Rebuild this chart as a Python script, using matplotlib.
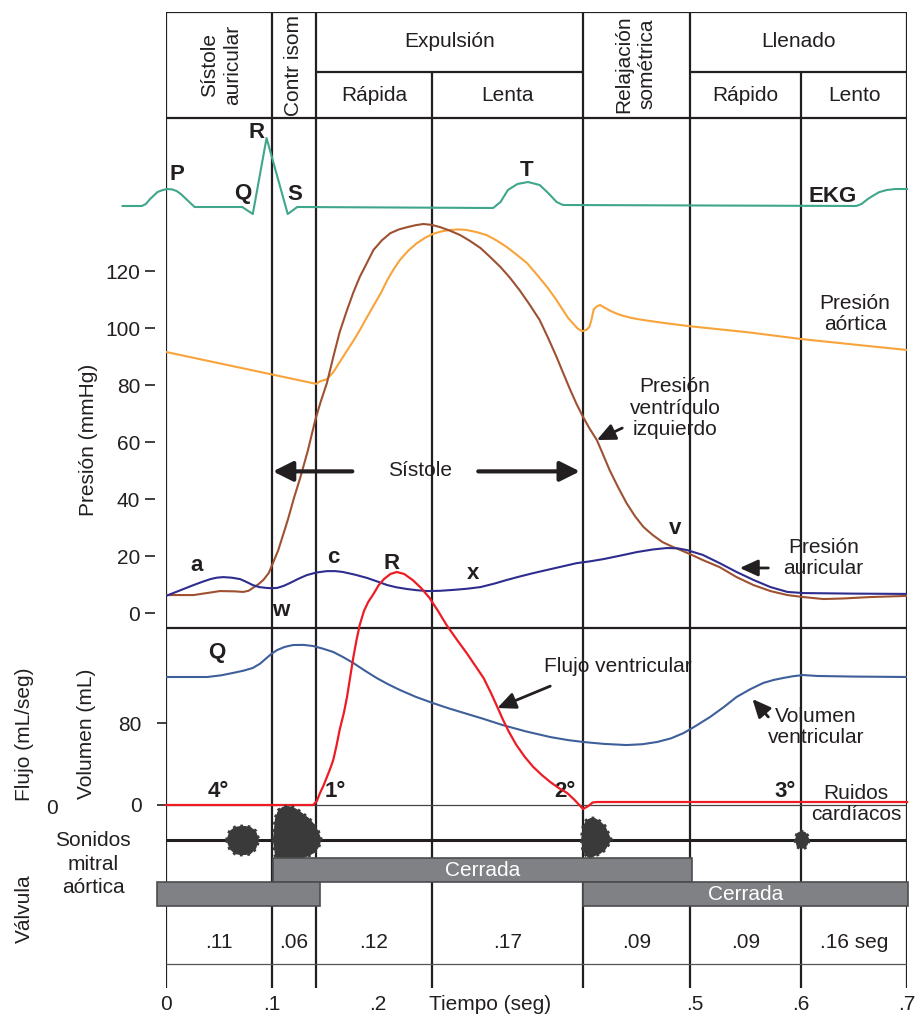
import numpy as np
import matplotlib
matplotlib.use('Agg')
import matplotlib.pyplot as plt

plt.rcParams['font.family'] = ['Liberation Sans', 'DejaVu Sans']

INK = '#231f20'

# ---- phases / time axis ----
phase_bounds = [0.0, 0.100, 0.142, 0.251, 0.394, 0.495, 0.600, 0.700]
phase_durations = ['.11', '.06', '.12', '.17', '.09', '.09', '.16 seg']
time_ticks = [0, 0.1, 0.2, 0.306, 0.5, 0.6, 0.7]
time_tick_labels = ['0', '.1', '.2', 'Tiempo (seg)', '.5', '.6', '.7']

# ---- EKG (mV) ----
ekg_t = [-0.041, -0.023, -0.019, -0.015, -0.011, -0.008, -0.003, 0.001, 0.006, 0.010,
         0.014, 0.018, 0.023, 0.027, 0.072, 0.082, 0.095, 0.115, 0.124, 0.309,
         0.316, 0.323, 0.332, 0.342, 0.353, 0.361, 0.369, 0.375, 0.652, 0.657,
         0.663, 0.669, 0.674, 0.681, 0.689, 0.700]
ekg_mv = [0.02, 0.02, 0.06, 0.16, 0.24, 0.30, 0.34, 0.36, 0.35, 0.32,
          0.26, 0.18, 0.08, 0.0, 0.0, -0.14, 1.38, -0.14, 0.0, -0.02,
          0.10, 0.34, 0.46, 0.50, 0.44, 0.28, 0.10, 0.04, 0.02, 0.06,
          0.16, 0.24, 0.30, 0.34, 0.36, 0.36]

# ---- pressures (mmHg) ----
aortic_t = [0.000, 0.142, 0.145, 0.148, 0.152, 0.158, 0.164, 0.170, 0.177, 0.183,
            0.190, 0.196, 0.203, 0.209, 0.215, 0.221, 0.229, 0.237, 0.245, 0.252,
            0.260, 0.268, 0.276, 0.284, 0.293, 0.303, 0.312, 0.322, 0.331, 0.341,
            0.350, 0.360, 0.368, 0.375, 0.380, 0.384, 0.389, 0.393, 0.397, 0.400,
            0.402, 0.404, 0.407, 0.410, 0.415, 0.421, 0.429, 0.440, 0.451, 0.470,
            0.493, 0.550, 0.601, 0.650, 0.700]
aortic_p = [91.6, 80.4, 81.2, 81.6, 82.0, 84.5, 88.0, 91.5, 95.5, 99.2,
            103.9, 107.8, 112.3, 116.8, 120.6, 123.9, 127.2, 129.8, 131.7, 133.0,
            133.9, 134.4, 134.6, 134.4, 133.7, 132.6, 130.8, 128.4, 125.8, 122.8,
            118.9, 114.4, 110.3, 106.3, 103.5, 101.8, 99.8, 98.9, 99.3, 100.4,
            103.0, 106.5, 107.6, 108.1, 107.0, 105.8, 104.6, 103.5, 102.8, 101.8,
            100.7, 98.5, 96.1, 94.2, 92.3]

lv_t = [0.000, 0.026, 0.051, 0.065, 0.073, 0.078, 0.082, 0.087, 0.092, 0.097,
        0.101, 0.106, 0.110, 0.115, 0.121, 0.127, 0.134, 0.141, 0.146, 0.152,
        0.158, 0.164, 0.171, 0.177, 0.183, 0.190, 0.196, 0.204, 0.212, 0.220,
        0.228, 0.236, 0.243, 0.251, 0.259, 0.268, 0.278, 0.287, 0.297, 0.306,
        0.316, 0.325, 0.334, 0.343, 0.353, 0.361, 0.369, 0.376, 0.382, 0.388,
        0.394, 0.400, 0.407, 0.413, 0.419, 0.427, 0.435, 0.443, 0.451, 0.460,
        0.469, 0.478, 0.486, 0.496, 0.507, 0.523, 0.539, 0.555, 0.571, 0.587,
        0.602, 0.621, 0.640, 0.665, 0.700]
lv_p = [6.3, 6.3, 7.7, 7.6, 7.4, 7.8, 8.8, 10.0, 11.6, 14.0,
        17.5, 22.0, 26.7, 32.6, 40.5, 47.7, 57.0, 67.7, 74.0, 80.7,
        89.8, 98.5, 106.3, 112.5, 117.9, 123.0, 127.4, 130.8, 133.3, 134.6,
        135.4, 136.1, 136.5, 136.2, 135.4, 134.2, 132.6, 130.6, 128.1, 125.0,
        121.4, 117.6, 113.3, 108.5, 102.8, 96.5, 89.8, 83.5, 78.2, 73.2,
        68.8, 64.8, 60.7, 55.5, 50.2, 44.2, 38.6, 34.0, 30.2, 27.3,
        24.9, 23.3, 22.1, 20.5, 18.6, 16.1, 12.6, 9.8, 7.7, 6.3,
        5.6, 4.9, 5.1, 5.6, 6.0]

atrial_t = [0.000, 0.013, 0.026, 0.034, 0.042, 0.048, 0.054, 0.062, 0.070, 0.076,
            0.082, 0.088, 0.095, 0.100, 0.105, 0.111, 0.117, 0.125, 0.133, 0.142,
            0.152, 0.160, 0.167, 0.178, 0.190, 0.200, 0.209, 0.218, 0.228, 0.237,
            0.247, 0.259, 0.271, 0.284, 0.297, 0.310, 0.322, 0.334, 0.347, 0.368,
            0.388, 0.400, 0.413, 0.430, 0.445, 0.460, 0.473, 0.483, 0.492, 0.507,
            0.523, 0.539, 0.555, 0.571, 0.587, 0.602, 0.650, 0.700]
atrial_p = [6.0, 7.9, 9.8, 10.9, 11.9, 12.4, 12.6, 12.4, 11.9, 10.9,
            9.8, 9.1, 8.8, 8.7, 8.8, 9.5, 10.5, 12.0, 13.3, 14.2,
            14.7, 14.7, 14.4, 13.5, 12.3, 11.0, 9.8, 9.0, 8.4, 8.0,
            7.7, 7.8, 8.1, 8.5, 9.1, 10.3, 11.6, 12.8, 14.0, 15.8,
            17.5, 18.1, 18.9, 20.2, 21.4, 22.3, 22.8, 22.7, 22.1, 20.4,
            17.5, 14.4, 11.6, 9.1, 7.4, 7.0, 6.8, 6.7]

# ---- ventricular flow (mL/s) and volume (mL) ----
flow_t = [0.000, 0.139, 0.1425, 0.1455, 0.149, 0.152, 0.155, 0.158, 0.161, 0.164,
          0.168, 0.171, 0.174, 0.177, 0.180, 0.183, 0.187, 0.191, 0.196, 0.201,
          0.206, 0.212, 0.218, 0.225, 0.233, 0.241, 0.249, 0.257, 0.265, 0.275,
          0.284, 0.292, 0.300, 0.307, 0.313, 0.318, 0.324, 0.331, 0.339, 0.347,
          0.355, 0.363, 0.371, 0.379, 0.386, 0.394, 0.399, 0.403, 0.407, 0.700]
flow_q = [0, 0, 8, 24, 40, 56, 72, 90, 118, 150,
          184, 216, 256, 296, 330, 360, 388, 406, 422, 440,
          452, 462, 466, 462, 450, 434, 414, 388, 360, 330,
          304, 279, 254, 224, 196, 172, 146, 120, 96, 76,
          60, 46, 34, 24, 10, -8, -2, 5, 6, 6]

volume_t = [0.000, 0.039, 0.052, 0.063, 0.073, 0.082, 0.089, 0.095, 0.100, 0.105,
            0.112, 0.120, 0.130, 0.139, 0.148, 0.158, 0.167, 0.177, 0.188, 0.199,
            0.210, 0.221, 0.236, 0.252, 0.268, 0.284, 0.300, 0.318, 0.340, 0.363,
            0.380, 0.394, 0.414, 0.435, 0.450, 0.464, 0.477, 0.489, 0.501, 0.514,
            0.527, 0.539, 0.552, 0.564, 0.574, 0.583, 0.592, 0.602, 0.615, 0.650,
            0.700]
volume_ml = [124.9, 124.9, 126.5, 128.8, 131.0, 133.7, 138.0, 143.4, 147.8, 151.2,
             154.2, 156.1, 156.2, 155.1, 152.6, 149.3, 144.5, 138.5, 131.0, 123.9,
             117.7, 112.2, 105.5, 99.5, 94.0, 89.0, 84.0, 78.0, 71.8, 66.3,
             63.3, 61.5, 59.6, 58.5, 59.3, 61.5, 65.0, 70.2, 77.5, 85.9,
             95.6, 105.4, 113.0, 119.0, 122.0, 123.9, 125.6, 126.8, 125.9, 125.3,
             124.9]

# ---- heart sounds (envelope, arbitrary units) ----
sound_s4_t = [0.057, 0.060, 0.065, 0.070, 0.075, 0.080, 0.085, 0.088]
sound_s4_up = [0, 9, 13, 14, 14, 13, 9, 0]
sound_s4_lo = [0, -9, -14, -15, -15, -14, -9, 0]
sound_s1_t = [0.101, 0.103, 0.106, 0.110, 0.115, 0.120, 0.125, 0.130, 0.135, 0.140, 0.144, 0.147]
sound_s1_up = [0, 22, 30, 33, 34, 33, 30, 26, 22, 16, 9, 0]
sound_s1_lo = [0, -16, -20, -20, -20, -20, -19, -18, -16, -13, -8, 0]
sound_s2_t = [0.392, 0.394, 0.397, 0.401, 0.405, 0.410, 0.415, 0.418, 0.421]
sound_s2_up = [0, 14, 20, 22, 22, 19, 14, 7, 0]
sound_s2_lo = [0, -12, -16, -19, -16, -14, -10, -5, 0]
sound_s3_t = [0.594, 0.596, 0.600, 0.604, 0.606, 0.608]
sound_s3_up = [0, 7, 9, 8, 5, 0]
sound_s3_lo = [0, -7, -9, -8, -5, 0]

# ---- valves closed (start, end) ----
mitral_closed = [(0.101, 0.497)]
aortic_closed = [(-0.0085, 0.1455), (0.394, 0.701)]

pressure_ticks = [0, 20, 40, 60, 80, 100, 120]
volume_ticks = [0, 80]

W, H = 915, 1014
X0, X1 = 166, 907


def box(top, bottom):
    return [X0 / W, 1 - bottom / H, (X1 - X0) / W, (bottom - top) / H]


def overlay(top, bottom):
    ax = fig.add_axes(box(top, bottom))
    ax.set_xlim(0, 0.7)
    ax.patch.set_alpha(0)
    for s in ax.spines.values():
        s.set_visible(False)
    ax.set_xticks([])
    ax.set_yticks([])
    return ax


def figtext(x, y, s, **kw):
    fig.text(x / W, 1 - y / H, s, **kw)


def pointer(ax, head, tail, big=False):
    if big:
        style = '-|>,head_length=0.6,head_width=0.3'
        lw = 3
    else:
        style = '-|>,head_length=0.55,head_width=0.25'
        lw = 2
    ax.annotate('', xy=head, xytext=tail,
                arrowprops=dict(arrowstyle=style, lw=lw, color=INK,
                                mutation_scale=20, shrinkA=0, shrinkB=0))


fig = plt.figure(figsize=(9.15, 10.14), dpi=100)

# ---- frame: grid lines, header, durations, time labels ----
fr = fig.add_axes(box(12, 988))
fr.set_xlim(0, 0.7)
fr.set_ylim(988, 12)
for s in fr.spines.values():
    s.set_visible(False)
fr.set_yticks([])
fr.set_xticks(time_ticks)
fr.set_xticklabels(time_tick_labels)
fr.tick_params(axis='x', length=0, pad=5, labelsize=15, colors=INK)

for t in phase_bounds:
    top = 72 if t in (0.251, 0.600) else 12
    fr.vlines(t, top, 988, color=INK, lw=1.6)
fr.hlines(12, 0, 0.7, color=INK, lw=1.6)
fr.hlines(72, phase_bounds[2], phase_bounds[4], color=INK, lw=1.6)
fr.hlines(72, phase_bounds[5], phase_bounds[7], color=INK, lw=1.6)
fr.hlines(118, 0, 0.7, color=INK, lw=1.6)
fr.hlines(628, 0, 0.7, color=INK, lw=1.6)
fr.hlines(805, 0, 0.7, color='#444444', lw=0.9)
fr.hlines(840, 0, 0.7, color=INK, lw=2.2)
fr.hlines(964, 0, 0.7, color='#555555', lw=0.9)

mids = [(a + b) / 2 for a, b in zip(phase_bounds[:-1], phase_bounds[1:])]
hdr = dict(fontsize=15, color=INK, ha='center', va='center')
fr.text(mids[0] + 0.002, 65, 'Sístole\nauricular', rotation=90, linespacing=1.25, **hdr)
fr.text(mids[1] - 0.001, 66, 'Contr isom', rotation=90, **hdr)
fr.text((phase_bounds[2] + phase_bounds[4]) / 2, 42, 'Expulsión', **hdr)
fr.text(mids[2], 96, 'Rápida', **hdr)
fr.text(mids[3], 96, 'Lenta', **hdr)
fr.text(mids[4] - 0.001, 64, 'Relajación\nsométrica', rotation=90, linespacing=1.25, **hdr)
fr.text((phase_bounds[5] + phase_bounds[7]) / 2, 42, 'Llenado', **hdr)
fr.text(mids[5], 96, 'Rápido', **hdr)
fr.text(mids[6], 96, 'Lento', **hdr)
for m, d in zip(mids, phase_durations):
    fr.text(m, 943, d, **hdr)

# ---- EKG ----
ax_e = overlay(118, 240)
ax_e.set_ylim(-0.66, 1.78)
ax_e.plot(ekg_t, ekg_mv, color='#3fa68c', lw=1.5, clip_on=False)
bold = dict(fontsize=16, fontweight='bold', color=INK, ha='center', va='center')
ax_e.text(0.0104, 0.64, 'P', **bold)
ax_e.text(0.0727, 0.28, 'Q', **bold)
ax_e.text(0.086, 1.48, 'R', **bold)
ax_e.text(0.122, 0.26, 'S', **bold)
ax_e.text(0.341, 0.74, 'T', **bold)
ax_e.text(0.630, 0.22, 'EKG', **bold)

# ---- pressures ----
ax_p = overlay(118, 628)
ax_p.set_ylim(-5.26, 173.7)
ax_p.spines['left'].set_position(('outward', 7.9))
ax_p.set_yticks(pressure_ticks)
ax_p.tick_params(axis='y', direction='out', length=7.2, width=1.2, pad=3.6,
                 labelsize=15, colors=INK)
ax_p.plot(aortic_t, aortic_p, color='#f9a33b', lw=1.5)
ax_p.plot(lv_t, lv_p, color='#9e5131', lw=1.5)
ax_p.plot(atrial_t, atrial_p, color='#2e2d8f', lw=1.5)

txt = dict(fontsize=15, color=INK, ha='center', va='center', linespacing=1.15)
ax_p.text(0.651, 104.9, 'Presión\naórtica', **txt)
ax_p.text(0.481, 71.9, 'Presión\nventrículo\nizquierdo', **txt)
pointer(ax_p, (0.407, 60.7), (0.431, 64.9))
ax_p.text(0.240, 50.0, 'Sístole', **txt)
pointer(ax_p, (0.101, 49.7), (0.176, 49.7), big=True)
pointer(ax_p, (0.391, 49.7), (0.295, 49.7), big=True)
ax_p.text(0.621, 19.3, 'Presión\nauricular', **txt)
pointer(ax_p, (0.542, 15.8), (0.569, 15.8))
ax_p.text(0.481, 29.8, 'v', **bold)
ax_p.text(0.029, 16.8, 'a', **bold)
ax_p.text(0.108, 1.0, 'w', **bold)
ax_p.text(0.158, 19.6, 'c', **bold)
ax_p.text(0.213, 17.5, 'R', **bold)
ax_p.text(0.290, 14.0, 'x', **bold)

# ---- volume ----
ax_v = overlay(628, 805)
ax_v.set_ylim(0, 172.7)
ax_v.set_yticks(volume_ticks)
ax_v.tick_params(axis='y', direction='out', length=6.5, width=1.2, pad=11,
                 labelsize=15, colors=INK)
ax_v.plot(volume_t, volume_ml, color='#3f5f9a', lw=1.5)
ax_v.text(0.048, 149, 'Q', **bold)
ax_v.text(0.427, 135.6, 'Flujo ventricular', **txt)
pointer(ax_v, (0.313, 94.6), (0.363, 116.0))
ax_v.text(0.614, 76, 'Volumen\nventricular', **txt)
pointer(ax_v, (0.554, 103.4), (0.569, 85.9))
ax_v.text(0.049, 13.5, '4°', **bold)
ax_v.text(0.160, 12.7, '1°', **bold)
ax_v.text(0.377, 12.7, '2°', **bold)
ax_v.text(0.585, 12.7, '3°', **bold)
ax_v.text(0.652, 1.0, 'Ruidos\ncardíacos', **txt)

# ---- flow ----
ax_f = overlay(118, 805)
ax_f.set_ylim(0, 1374)
ax_f.plot(flow_t, flow_q, color='#ed1c24', lw=1.6, clip_on=False)

# ---- heart sounds ----
ax_s = overlay(805, 875)
ax_s.set_ylim(-35, 35)
for st, up, lo in [(sound_s4_t, sound_s4_up, sound_s4_lo),
                   (sound_s1_t, sound_s1_up, sound_s1_lo),
                   (sound_s2_t, sound_s2_up, sound_s2_lo),
                   (sound_s3_t, sound_s3_up, sound_s3_lo)]:
    ax_s.fill_between(st, lo, up, facecolor='#3a3a3a', edgecolor='#3a3a3a',
                      lw=2.0, linestyle=':', clip_on=False)

# ---- valves ----
ax_val = overlay(858, 906)
ax_val.set_ylim(-0.5, 1.5)
for a, b in mitral_closed:
    ax_val.barh(1, b - a, left=a, height=1.0, color='#808184',
                edgecolor='#4d4d4f', lw=1.2, clip_on=False)
    ax_val.text((a + b) / 2, 1, 'Cerrada', fontsize=15, color='white',
                ha='center', va='center')
for i, (a, b) in enumerate(aortic_closed):
    ax_val.barh(0, b - a, left=a, height=1.0, color='#808184',
                edgecolor='#4d4d4f', lw=1.2, clip_on=False)
    if i == 1:
        ax_val.text((a + b) / 2, 0, 'Cerrada', fontsize=15, color='white',
                    ha='center', va='center')

# ---- outer labels ----
side = dict(fontsize=15, color=INK, ha='center', va='center')
figtext(88, 440, 'Presión (mmHg)', rotation=90, **side)
figtext(25, 734, 'Flujo (mL/seg)', rotation=90, **side)
figtext(87, 734, 'Volumen (mL)', rotation=90, **side)
figtext(52, 808, '0', **side)
figtext(93, 864, 'Sonidos\nmitral\naórtica', linespacing=1.3, **side)
figtext(24, 909, 'Válvula', rotation=90, **side)

fig.savefig('out.png', dpi=100)
